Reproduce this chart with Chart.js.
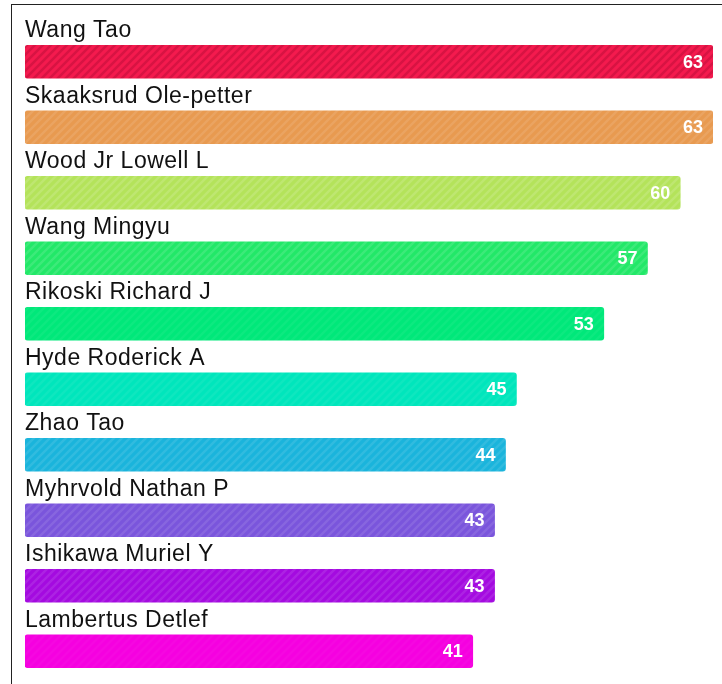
<!DOCTYPE html>
<html>
<head>
<meta charset="utf-8">
<script src="https://cdn.jsdelivr.net/npm/chart.js@4"></script>
<style>
  html, body { margin: 0; padding: 0; background: #fff; }
  #wrap { position: relative; width: 722px; height: 684px; overflow: hidden; }
  #frame { position: absolute; left: 11px; top: 4px; width: 720px; height: 690px;
           border-left: 1px solid #222; border-top: 1px solid #222; }
  #chart { position: absolute; left: 0; top: 0; }
</style>
</head>
<body>
<div id="wrap">
  <div id="frame"></div>
  <canvas id="chart" width="722" height="684"></canvas>
</div>
<script>
// Top authors by count
const names = ['Wang Tao', 'Skaaksrud Ole-petter', 'Wood Jr Lowell L', 'Wang Mingyu',
  'Rikoski Richard J', 'Hyde Roderick A', 'Zhao Tao', 'Myhrvold Nathan P',
  'Ishikawa Muriel Y', 'Lambertus Detlef'];
const counts = [63, 63, 60, 57, 53, 45, 44, 43, 43, 41];
const barColors = ['#f41a4e', '#e89a50', '#b4e35a', '#22e868', '#00e87a',
  '#00e6bc', '#1ab4dc', '#7a55dc', '#a40ae0', '#f500e0'];
const stripeColors = ['rgba(130,0,35,0.25)', 'rgba(255,255,255,0.1)', 'rgba(255,255,255,0.14)',
  'rgba(255,255,255,0.12)', 'rgba(255,255,255,0.05)', 'rgba(255,255,255,0.06)',
  'rgba(255,255,255,0.1)', 'rgba(255,255,255,0.1)', 'rgba(255,255,255,0.1)',
  'rgba(255,255,255,0.03)'];

// diagonal hatch fill
function hatch(base, stripe) {
  const c = document.createElement('canvas');
  c.width = 8; c.height = 8;
  const g = c.getContext('2d');
  g.fillStyle = base;
  g.fillRect(0, 0, 8, 8);
  g.strokeStyle = stripe;
  g.lineWidth = 2.5;
  g.beginPath();
  g.moveTo(-2, 10); g.lineTo(10, -2);
  g.moveTo(-2, 2); g.lineTo(2, -2);
  g.moveTo(6, 10); g.lineTo(10, 6);
  g.stroke();
  return g.createPattern(c, 'repeat');
}

const barLabels = {
  id: 'barLabels',
  afterDatasetsDraw(chart) {
    const ctx = chart.ctx;
    const meta = chart.getDatasetMeta(0);
    ctx.save();
    meta.data.forEach((bar, i) => {
      const top = bar.y - bar.height / 2;
      ctx.fillStyle = '#111';
      ctx.font = '23px "Liberation Sans", Arial, sans-serif';
      ctx.letterSpacing = '0.5px';
      ctx.textAlign = 'left';
      ctx.textBaseline = 'alphabetic';
      ctx.fillText(names[i], chart.chartArea.left, top - 8);
      ctx.fillStyle = '#fff';
      ctx.font = 'bold 18px "Liberation Sans", Arial, sans-serif';
      ctx.letterSpacing = '0px';
      ctx.textAlign = 'right';
      ctx.textBaseline = 'middle';
      ctx.fillText(counts[i], bar.x - 10, bar.y + 1);
    });
    ctx.restore();
  }
};

new Chart(document.getElementById('chart'), {
  type: 'bar',
  data: {
    labels: names,
    datasets: [{
      data: counts,
      backgroundColor: barColors.map((c, i) => hatch(c, stripeColors[i])),
      borderRadius: 3,
      borderSkipped: false,
      barThickness: 33
    }]
  },
  options: {
    indexAxis: 'y',
    responsive: false,
    animation: false,
    layout: { padding: { left: 25, right: 9, top: 29, bottom: 0 } },
    scales: {
      x: { display: false, min: 0, max: 63 },
      y: { display: false }
    },
    plugins: {
      legend: { display: false },
      tooltip: { enabled: false }
    }
  },
  plugins: [barLabels]
});
</script>
</body>
</html>
